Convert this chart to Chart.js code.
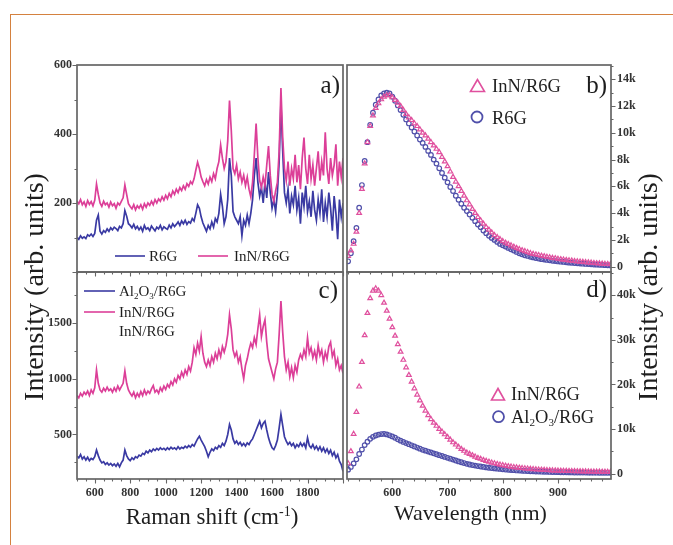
<!DOCTYPE html>
<html><head><meta charset="utf-8">
<script src="https://cdn.jsdelivr.net/npm/chart.js@4.4.1/dist/chart.umd.min.js"></script>
<style>
body{margin:0;background:#fff;}
#wrap{position:relative;width:673px;height:545px;overflow:hidden;background:#fff;font-family:"Liberation Serif","Times New Roman",serif;color:#1e1e1e;}
canvas{position:absolute;left:0;top:0;}
.t{position:absolute;white-space:nowrap;line-height:1;}
#frame{position:absolute;left:10px;top:14px;width:663px;height:531px;border-top:1.5px solid #d4813f;border-left:1.5px solid #d4813f;box-sizing:border-box;}
svg{position:absolute;left:0;top:0;}
</style></head><body>
<div id="wrap">
<div id="frame"></div>
<canvas id="ca" width="673" height="545"></canvas>
<canvas id="cb" width="673" height="545"></canvas>
<canvas id="cc" width="673" height="545"></canvas>
<canvas id="cd" width="673" height="545"></canvas>
<svg width="673" height="545">
  <line x1="115" y1="256" x2="145" y2="256" stroke="#3a3aa3" stroke-width="1.6"/>
  <line x1="198" y1="256" x2="228" y2="256" stroke="#dc3f98" stroke-width="1.6"/>
  <line x1="84" y1="291" x2="115" y2="291" stroke="#3a3aa3" stroke-width="1.6"/>
  <line x1="84" y1="312" x2="115" y2="312" stroke="#dc3f98" stroke-width="1.6"/>
  <polygon points="477.5,79.5 470.5,91.5 484.5,91.5" fill="none" stroke="#e0509e" stroke-width="1.6"/>
  <circle cx="477" cy="117" r="5.5" fill="none" stroke="#5050aa" stroke-width="1.8"/>
  <polygon points="498,388.5 491.5,400 504.5,400" fill="none" stroke="#e0509e" stroke-width="1.6"/>
  <circle cx="498.5" cy="416.7" r="5.5" fill="none" stroke="#5050aa" stroke-width="1.8"/>
</svg>
<div class="t" style="left:149px;top:256px;font-size:15px;transform:translateY(-50%)">R6G</div>
<div class="t" style="left:234px;top:256px;font-size:15px;transform:translateY(-50%)">InN/R6G</div>
<div class="t" style="left:119px;top:291px;font-size:15px;transform:translateY(-50%)">Al<span style="font-size:0.6em;position:relative;top:0.3em">2</span>O<span style="font-size:0.6em;position:relative;top:0.3em">3</span>/R6G</div>
<div class="t" style="left:119px;top:312px;font-size:15px;transform:translateY(-50%)">InN/R6G</div>
<div class="t" style="left:119px;top:331px;font-size:15px;transform:translateY(-50%)">InN/R6G</div>
<div class="t" style="left:492px;top:86px;font-size:18.5px;transform:translateY(-50%)">InN/R6G</div>
<div class="t" style="left:492px;top:117.5px;font-size:18.5px;transform:translateY(-50%)">R6G</div>
<div class="t" style="left:511px;top:394px;font-size:18.5px;transform:translateY(-50%)">InN/R6G</div>
<div class="t" style="left:511px;top:416.7px;font-size:18.5px;transform:translateY(-50%)">Al<span style="font-size:0.6em;position:relative;top:0.3em">2</span>O<span style="font-size:0.6em;position:relative;top:0.3em">3</span>/R6G</div>
<div class="t" style="left:340px;top:84px;font-size:25px;transform:translate(-100%,-50%)">a)</div>
<div class="t" style="left:607px;top:84px;font-size:25px;transform:translate(-100%,-50%)">b)</div>
<div class="t" style="left:338px;top:289px;font-size:25px;transform:translate(-100%,-50%)">c)</div>
<div class="t" style="left:607px;top:288px;font-size:25px;transform:translate(-100%,-50%)">d)</div>
<div class="t" style="left:34px;top:287px;font-size:28px;transform:translate(-50%,-50%) rotate(-90deg)">Intensity (arb. units)</div>
<div class="t" style="left:648px;top:287px;font-size:28px;transform:translate(-50%,-50%) rotate(-90deg)">Intensity (arb. units)</div>
<div class="t" style="left:212px;top:515.5px;font-size:23px;transform:translate(-50%,-50%)">Raman shift (cm<span style="font-size:14px;position:relative;top:-8px">-1</span>)</div>
<div class="t" style="left:470.5px;top:512.5px;font-size:22px;transform:translate(-50%,-50%)">Wavelength (nm)</div>
</div>
<script>
// ---------- data ----------
const ramanShift = [
500,510,520,530,540,550,560,570,580,590,
600,610,620,630,640,650,660,670,680,690,
700,710,720,730,740,750,760,770,780,790,
800,810,820,830,840,850,860,870,880,890,
900,910,920,930,940,950,960,970,980,990,
1000,1010,1020,1030,1040,1050,1060,1070,1080,1090,
1100,1110,1120,1130,1140,1150,1160,1170,1180,1190,
1200,1210,1220,1230,1240,1250,1260,1270,1280,1290,
1300,1310,1320,1330,1340,1350,1360,1370,1380,1390,
1400,1410,1420,1430,1440,1450,1460,1470,1480,1490,
1500,1510,1520,1530,1540,1550,1560,1570,1580,1590,
1600,1610,1620,1630,1640,1650,1660,1670,1680,1690,
1700,1710,1720,1730,1740,1750,1760,1770,1780,1790,
1800,1810,1820,1830,1840,1850,1860,1870,1880,1890,
1900,1910,1920,1930,1940,1950,1960,1970,1980,1990,
2000];
const ramanR6G = [
100,95,105,98,102,97,108,104,110,103,
112,150,165,118,110,120,115,125,118,128,
122,130,126,120,132,128,140,178,162,140,
135,128,138,125,132,122,130,118,135,124,
128,120,133,126,119,130,125,135,122,131,
127,124,136,128,140,132,138,145,135,148,
140,150,138,146,142,155,148,170,195,185,
160,142,130,118,135,125,145,130,155,145,
170,225,190,140,160,210,330,280,175,160,
150,140,160,105,150,135,165,140,170,210,
280,330,260,220,245,200,260,215,290,230,
185,210,175,230,320,490,350,230,200,240,
170,220,195,250,180,215,140,230,190,250,
175,205,160,235,180,150,210,170,240,145,
200,160,230,185,120,220,170,95,210,160,
200];
const ramanInN_a = [
205,198,210,195,203,190,207,196,204,192,
208,255,225,200,190,205,195,200,188,203,
192,198,185,200,194,205,215,252,225,198,
190,183,195,180,192,185,195,182,198,188,
200,193,205,195,210,200,212,205,218,208,
222,212,228,218,235,225,240,230,245,236,
250,240,256,248,262,255,270,295,318,300,
275,262,250,268,255,275,262,285,270,300,
320,368,330,300,320,380,497,410,300,285,
310,270,290,260,280,250,275,240,218,260,
340,430,330,265,245,275,250,310,365,280,
225,205,235,260,350,533,390,300,265,320,
250,300,270,340,260,310,240,330,390,300,
255,340,270,310,250,300,350,265,320,280,
405,300,255,330,280,310,370,250,320,275,
330];
const ramanInN_c = [
850,830,870,845,880,860,890,850,900,870,
920,1080,960,900,880,915,890,925,895,910,
880,920,890,935,900,930,960,1070,960,900,
870,845,880,830,870,840,885,850,900,860,
890,870,910,940,880,900,870,920,890,935,
905,950,925,975,945,1000,970,1030,1000,1060,
1020,1080,1040,1110,1070,1150,1280,1220,1320,1250,
1380,1230,1150,1110,1170,1120,1200,1150,1230,1180,
1260,1200,1290,1240,1300,1400,1575,1450,1260,1200,
1240,1150,1200,1090,1000,1120,1180,1260,1320,1280,
1370,1310,1450,1575,1380,1470,1530,1330,1180,1120,
1060,1000,1090,1150,1400,1700,1420,1200,1080,1150,
1020,1100,1010,1120,1060,1170,1220,1180,1260,1200,
1370,1230,1280,1190,1250,1170,1300,1210,1260,1150,
1240,1180,1290,1330,1200,1250,1120,1180,1080,1120,
1050];
const ramanAl2O3 = [
305,290,320,280,300,270,295,265,285,275,
300,360,310,270,245,255,230,245,225,240,
220,235,215,240,210,245,270,360,310,280,
265,290,275,300,290,315,305,330,320,350,
335,360,345,370,355,375,360,380,365,375,
360,380,365,385,370,380,365,390,370,385,
375,395,380,400,385,410,395,430,460,485,
450,420,390,350,300,340,370,355,385,370,
400,385,420,400,440,500,590,540,460,420,
440,410,430,400,420,395,425,410,440,460,
500,540,580,620,560,600,620,540,470,420,
380,365,400,450,560,680,580,480,440,410,
430,400,420,380,410,390,425,395,420,380,
470,400,380,410,370,395,360,390,350,380,
340,370,330,360,310,340,290,320,260,230,
170];

const wavelength = [
520,525,530,535,540,545,550,555,560,565,
570,575,580,585,590,595,600,605,610,615,
620,625,630,635,640,645,650,655,660,665,
670,675,680,685,690,695,700,705,710,715,
720,725,730,735,740,745,750,755,760,765,
770,775,780,785,790,795,800,805,810,815,
820,825,830,835,840,845,850,855,860,865,
870,875,880,885,890,895,900,905,910,915,
920,925,930,935,940,945,950,955,960,965,
970,975,980,985,990,995];
const plR6G_b = [
400,1000,1900,2900,4400,6100,7900,9300,10600,11500,
12100,12500,12800,12950,13000,12950,12700,12400,12050,11700,
11350,11000,10700,10400,10100,9800,9500,9250,8950,8650,
8350,8000,7700,7350,7000,6650,6300,5950,5650,5300,
5000,4700,4400,4150,3900,3650,3400,3150,2950,2700,
2500,2300,2150,2000,1850,1700,1600,1500,1400,1300,
1200,1100,1000,920,850,800,740,690,640,600,
560,530,500,470,440,420,390,370,350,330,
300,290,270,250,230,220,200,190,170,160,
150,140,130,110,100,90];
const plInN_b = [
800,1200,1700,2600,4000,5800,7700,9300,10500,11300,
11850,12200,12500,12700,12800,12800,12650,12450,12250,12000,
11700,11400,11150,10950,10700,10500,10250,10000,9800,9550,
9300,9050,8800,8550,8200,7850,7500,7100,6700,6350,
6000,5650,5300,4950,4650,4300,4000,3700,3450,3200,
2950,2750,2550,2350,2200,2050,1900,1780,1680,1580,
1480,1390,1300,1220,1150,1080,1000,950,900,860,
810,770,730,690,650,620,580,550,520,490,
460,440,410,390,370,350,330,310,290,270,
250,240,220,200,190,180];
const plInN_d = [
2300,5000,8900,13800,19500,25000,31000,36000,39300,41000,
41500,41000,40000,38300,36500,34700,32800,30900,29000,27300,
25500,23800,22100,20600,19100,17700,16400,15200,14100,13100,
12200,11400,10700,10000,9400,8800,8200,7600,7000,6500,
6000,5500,5100,4700,4400,4100,3800,3500,3300,3050,
2850,2650,2450,2300,2150,2000,1880,1760,1650,1550,
1450,1380,1300,1230,1170,1110,1050,1000,950,900,
860,820,780,750,720,690,660,640,620,600,
580,560,540,520,510,490,480,460,450,440,
430,420,410,400,390,380];
const plAl2O3_d = [
900,1500,2300,3200,4400,5400,6400,7150,7800,8250,
8550,8750,8880,8900,8800,8600,8350,8050,7700,7400,
7100,6850,6600,6350,6100,5850,5600,5350,5150,4950,
4750,4550,4350,4150,3950,3750,3550,3350,3150,2950,
2750,2550,2380,2200,2050,1920,1800,1700,1600,1500,
1400,1320,1250,1180,1110,1050,990,930,870,820,
770,720,680,640,600,570,540,510,480,460,
440,420,400,380,360,345,330,315,300,290,
280,270,260,250,240,235,230,225,220,215,
210,205,200,195,190,185];

// tick labels
const aYTicks = [200, 400, 600];
const cYTicks = [500, 1000, 1500];
const ramanXTicks = [600, 800, 1000, 1200, 1400, 1600, 1800];
const bYTicks = [0, 2000, 4000, 6000, 8000, 10000, 12000, 14000];
const dYTicks = [0, 10000, 20000, 30000, 40000];
const plXTicks = [600, 700, 800, 900];

// ---------- drawing ----------
const BLUE = '#3a3aa3', PINK = '#dc3f98', MBLUE = '#5050aa', MPINK = '#e0509e';
const tickFont = {family: 'Liberation Serif', size: 12, weight: 'bold'};
const pts = (xs, ys) => xs.map((x, i) => ({x: x, y: ys[i]}));

const frameTicks = {
  id: 'frameTicks',
  afterDraw(chart, args, o) {
    const ctx = chart.ctx, a = chart.chartArea, x = chart.scales.x, y = chart.scales.y;
    ctx.save();
    ctx.strokeStyle = '#666';
    ctx.lineWidth = 1.7;
    ctx.strokeRect(a.left, a.top, a.right - a.left, a.bottom - a.top);
    ctx.lineWidth = 1.1;
    ctx.beginPath();
    for (let v = Math.ceil(x.min / o.xMinor) * o.xMinor; v <= x.max; v += o.xMinor) {
      const px = Math.round(x.getPixelForValue(v)) + 0.5;
      const len = (v % o.xMajor === 0) ? 4.5 : 2.5;
      ctx.moveTo(px, a.bottom); ctx.lineTo(px, a.bottom + len);
    }
    const x0 = o.right ? a.right : a.left, d = o.right ? 1 : -1;
    for (let v = Math.ceil(y.min / o.yMinor) * o.yMinor; v <= y.max; v += o.yMinor) {
      const py = Math.round(y.getPixelForValue(v)) + 0.5;
      const len = (v % o.yMajor === 0) ? 4.5 : 2.5;
      ctx.moveTo(x0, py); ctx.lineTo(x0 + d * len, py);
    }
    ctx.stroke();
    ctx.restore();
  }
};

function kFmt(v) { return v === 0 ? '0' : (v / 1000) + 'k'; }
function plain(v) { return String(v); }

function panel(id, datasets, o) {
  return new Chart(document.getElementById(id), {
    type: 'line',
    data: {datasets: datasets},
    plugins: [frameTicks],
    options: {
      responsive: false, animation: false, devicePixelRatio: 1,
      layout: {padding: o.pad},
      plugins: {legend: {display: false}, tooltip: {enabled: false}, frameTicks: o.ticks},
      scales: {
        x: {
          type: 'linear', min: o.xmin, max: o.xmax, display: o.xShow, position: 'bottom',
          afterFit: s => { s.height = o.xShow ? 30 : 0; },
          afterBuildTicks: s => { s.ticks = o.xTicks.map(v => ({value: v})); },
          grid: {display: false, drawTicks: false}, border: {display: false},
          ticks: {font: tickFont, color: '#333', padding: 7, maxRotation: 0, autoSkip: false, callback: plain}
        },
        y: {
          type: 'linear', min: o.ymin, max: o.ymax, position: o.yPos,
          afterFit: s => { s.width = 30; },
          afterBuildTicks: s => { s.ticks = o.yTicks.map(v => ({value: v})); },
          grid: {display: false, drawTicks: false}, border: {display: false},
          ticks: {font: tickFont, color: '#333', padding: o.yPos === 'right' ? 6 : 5, autoSkip: false,
                  callback: o.fmt || plain}
        }
      }
    }
  });
}

const lineDs = (label, ys, c) => ({label: label, data: pts(ramanShift, ys), borderColor: c, borderWidth: 1.7,
  pointRadius: 0, tension: 0, fill: false});
const markDs = (label, ys, c, style, r) => ({label: label, data: pts(wavelength, ys), showLine: false,
  pointStyle: style, pointRadius: r, pointBorderWidth: 1.2, pointBorderColor: c,
  pointBackgroundColor: 'rgba(0,0,0,0)', borderColor: c, backgroundColor: 'rgba(0,0,0,0)'});

// a) 77..343 x 65..272
panel('ca', [lineDs('InN/R6G', ramanInN_a, PINK), lineDs('R6G', ramanR6G, BLUE)], {
  pad: {left: 47, right: 330, top: 65, bottom: 273},
  xmin: 500, xmax: 2000, xShow: false, xTicks: ramanXTicks,
  ymin: 0, ymax: 600, yPos: 'left', yTicks: aYTicks,
  ticks: {xMinor: 50, xMajor: 200, yMinor: 100, yMajor: 200, right: false}
});
// c) 77..343 x 272..479
panel('cc', [lineDs('InN/R6G', ramanInN_c, PINK), lineDs('Al2O3/R6G', ramanAl2O3, BLUE)], {
  pad: {left: 47, right: 330, top: 272, bottom: 36},
  xmin: 500, xmax: 2000, xShow: true, xTicks: ramanXTicks,
  ymin: 100, ymax: 1960, yPos: 'left', yTicks: cYTicks,
  ticks: {xMinor: 50, xMajor: 200, yMinor: 250, yMajor: 500, right: false}
});
// b) 347..611 x 65..272
panel('cb', [markDs('InN/R6G', plInN_b, MPINK, 'triangle', 2.7), markDs('R6G', plR6G_b, MBLUE, 'circle', 2.3)], {
  pad: {left: 347, right: 32, top: 65, bottom: 273},
  xmin: 518, xmax: 996, xShow: false, xTicks: plXTicks,
  ymin: -400, ymax: 15070, yPos: 'right', yTicks: bYTicks, fmt: kFmt,
  ticks: {xMinor: 20, xMajor: 100, yMinor: 1000, yMajor: 2000, right: true}
});
// d) 347..611 x 272..479
panel('cd', [markDs('InN/R6G', plInN_d, MPINK, 'triangle', 2.7), markDs('Al2O3/R6G', plAl2O3_d, MBLUE, 'circle', 2.3)], {
  pad: {left: 347, right: 32, top: 272, bottom: 36},
  xmin: 518, xmax: 996, xShow: true, xTicks: plXTicks,
  ymin: -1200, ymax: 45200, yPos: 'right', yTicks: dYTicks, fmt: kFmt,
  ticks: {xMinor: 20, xMajor: 100, yMinor: 5000, yMajor: 10000, right: true}
});
</script>
</body></html>
